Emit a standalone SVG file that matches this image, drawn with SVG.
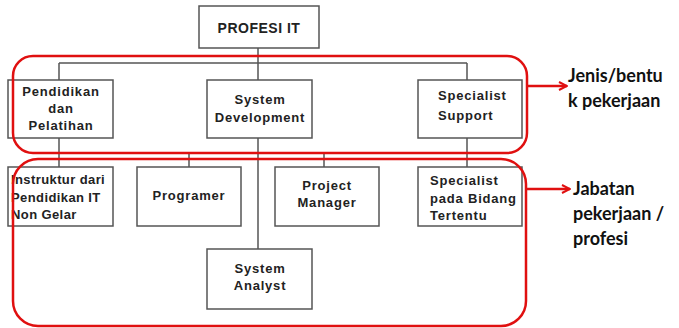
<svg xmlns="http://www.w3.org/2000/svg" width="679" height="328" viewBox="0 0 679 328">
<defs>
<style>
.box{fill:#fff;stroke:#555;stroke-width:1.5}
.ln{stroke:#555;stroke-width:1.5;fill:none}
.red{fill:none;stroke:#e01010;stroke-width:2.5}
.t{font-family:"Liberation Sans",Arial,sans-serif;font-weight:bold;font-size:13px;fill:#222;letter-spacing:0.8px}
.c{text-anchor:middle}
.lab{font-family:Lato,"Noto Sans",sans-serif;font-weight:bold;font-size:18px;fill:#111}
</style>
<marker id="ah" viewBox="0 0 10 10" refX="9" refY="5" markerWidth="10" markerHeight="10" markerUnits="userSpaceOnUse" orient="auto">
<path d="M1,1 L9,5 L1,9" fill="none" stroke="#e01010" stroke-width="2"/>
</marker>
</defs>
<g id="connectors">
<path class="ln" d="M258,48 V80 M59,63 H467 M59,63 V80 M467,63 V80 M258,138 V249 M59,153 H467 M59,138 V167 M189,153 V167 M324,153 V167 M467,138 V167"/>
</g>
<g id="profesi-it"><rect class="box" x="199" y="6" width="120" height="42"/><text class="t c" x="259" y="33" style="font-size:14px;letter-spacing:0.5px">PROFESI IT</text></g>
<g id="pendidikan"><rect class="box" x="8" y="80" width="105" height="58"/><text class="t c" x="61" y="96">Pendidikan</text><text class="t c" x="61" y="113">dan</text><text class="t c" x="61" y="130">Pelatihan</text></g>
<g id="system-development"><rect class="box" x="207" y="80" width="105" height="58"/><text class="t c" x="260" y="104">System</text><text class="t c" x="260" y="122">Development</text></g>
<g id="specialist-support"><rect class="box" x="418" y="80" width="104" height="58"/><text class="t" x="438" y="100">Specialist</text><text class="t" x="438" y="120">Support</text></g>
<g id="instruktur"><rect class="box" x="8" y="167" width="105" height="59"/><text class="t" x="11" y="184" style="letter-spacing:0.4px">Instruktur dari</text><text class="t" x="11" y="202" style="letter-spacing:0.4px">Pendidikan IT</text><text class="t" x="11" y="219" style="letter-spacing:0.4px">Non Gelar</text></g>
<g id="programer"><rect class="box" x="137" y="167" width="104" height="59"/><text class="t c" x="189" y="200">Programer</text></g>
<g id="project-manager"><rect class="box" x="275" y="167" width="104" height="59"/><text class="t c" x="327" y="190">Project</text><text class="t c" x="327" y="207">Manager</text></g>
<g id="specialist-bidang"><rect class="box" x="418" y="167" width="104" height="59"/><text class="t" x="430" y="185">Specialist</text><text class="t" x="430" y="203">pada Bidang</text><text class="t" x="430" y="220">Tertentu</text></g>
<g id="system-analyst"><rect class="box" x="207" y="249" width="105" height="60"/><text class="t c" x="260" y="273">System</text><text class="t c" x="260" y="290">Analyst</text></g>
<g id="group-jenis"><rect class="red" x="13" y="56" width="514" height="97" rx="20"/><line class="red" x1="527" y1="86" x2="567" y2="86" marker-end="url(#ah)"/><text class="lab" x="568" y="82">Jenis/bentu</text><text class="lab" x="568" y="107">k pekerjaan</text></g>
<g id="group-jabatan"><rect class="red" x="13" y="159" width="513" height="167" rx="25"/><line class="red" x1="526" y1="189" x2="570" y2="189" marker-end="url(#ah)"/><text class="lab" x="573" y="195">Jabatan</text><text class="lab" x="573" y="220">pekerjaan /</text><text class="lab" x="573" y="245">profesi</text></g>
</svg>
